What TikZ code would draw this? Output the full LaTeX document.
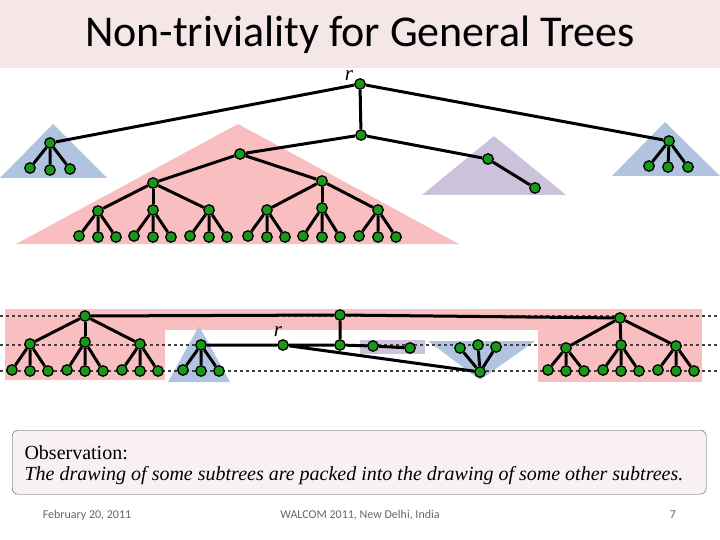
\documentclass[tikz,border=0pt]{standalone}
\usepackage{fontspec}
\setmainfont{Liberation Serif}
\newfontfamily\carfont{Carlito}
\begin{document}
\begin{tikzpicture}[x=1pt,y=-1pt,
 v/.style={circle,draw=black,fill=green!55!black!90,line width=1.3pt,inner sep=0pt,minimum size=10.5pt},
 ed/.style={line width=3pt},
 dl/.style={dashed,black!75,line width=1.1pt}]
\useasboundingbox (0,0) rectangle (720,540);
\definecolor{hdr}{RGB}{245,230,232}
\definecolor{pk}{RGB}{248,190,192}
\definecolor{bl}{RGB}{176,196,224}
\definecolor{pu}{RGB}{204,194,220}
\fill[hdr] (0,0) rectangle (720,68);
\node[font=\carfont\fontsize{44}{48}\selectfont] (title) at (360,35) {Non-triviality for General Trees};
% top tree backgrounds
\fill[bl] (53,124) -- (107,178) -- (0,178) -- cycle;
\fill[bl] (665,122) -- (720,176) -- (612,176) -- cycle;
\fill[pu] (494,136) -- (566,195) -- (422,195) -- cycle;
\fill[pk] (238,124) -- (459,244) -- (16,244) -- cycle;
% top tree
\node[v] (r) at (360,84) {};
\node[font=\itshape\fontsize{21}{21}\selectfont] (rl) at (349,76) {r};
\node[v] (m) at (361,135) {};
\node[v] (L) at (50,143) {};
\node[v] (L1) at (30,168) {};\node[v] (L2) at (50,170) {};\node[v] (L3) at (70,169) {};
\node[v] (R) at (669,141) {};
\node[v] (R1) at (649,166) {};\node[v] (R2) at (668,167) {};\node[v] (R3) at (688,167) {};
\node[v] (P) at (488,159) {};\node[v] (P1) at (535,188) {};
\node[v] (T) at (240,154) {};
\node[v] (Ta) at (153,183) {};\node[v] (Tb) at (322,181) {};
\draw[ed] (r)--(m) (r)--(L) (r)--(R) (m)--(T) (m)--(P) (P)--(P1)
 (L)--(L1) (L)--(L2) (L)--(L3) (R)--(R1) (R)--(R2) (R)--(R3) (T)--(Ta) (T)--(Tb);
\foreach \n/\x/\y/\p in {a1/98/211/Ta,a2/153/210/Ta,a3/209/210/Ta,b1/267/210/Tb,b2/322/208/Tb,b3/378/210/Tb}{
 \node[v] (\n) at (\x,\y) {};
 \draw[ed] (\p)--(\n);
 \node[v] (\n x) at (\x-19,236) {};\node[v] (\n y) at (\x,237) {};\node[v] (\n z) at (\x+18,237) {};
 \draw[ed] (\n)--(\n x) (\n)--(\n y) (\n)--(\n z);
}
% bottom
\fill[pk] (5,309) rectangle (702,330);
\fill[pk] (5,330) rectangle (165,380);
\fill[pk] (538,330) rectangle (702,382);
\fill[bl] (199,326) -- (230,382) -- (168,382) -- cycle;
\fill[pu] (360,340) rectangle (425,354);
\fill[bl] (428,341) -- (535,341) -- (480,380) -- cycle;
\draw[dl] (0,316)--(720,316) (0,345)--(720,345) (0,371)--(720,371);
\node[v] (A) at (85,316) {};\node[v] (B) at (340,315) {};\node[v] (C) at (620,318) {};
\draw[ed] (A)--(B)--(C);
\foreach \n/\x/\y/\p in {A1/30/344/A,A2/85/342/A,A3/140/344/A,C1/566/348/C,C2/621/345/C,C3/676/346/C}{
 \node[v] (\n) at (\x,\y) {};
 \draw[ed] (\p)--(\n);
 \node[v] (\n x) at (\x-18,370) {};\node[v] (\n y) at (\x,371) {};\node[v] (\n z) at (\x+18,371) {};
 \draw[ed] (\n)--(\n x) (\n)--(\n y) (\n)--(\n z);
}
\node[v] (S) at (201,345) {};
\node[v] (S1) at (183,370) {};\node[v] (S2) at (201,371) {};\node[v] (S3) at (219,371) {};
\draw[ed] (S)--(S1) (S)--(S2) (S)--(S3);
\node[v] (r2) at (283,345) {};
\node[font=\itshape\fontsize{21}{21}\selectfont] (r2l) at (278,332) {r};
\node[v] (Bm) at (340,345) {};
\node[v] (Q1) at (373,346) {};\node[v] (Q2) at (410,348) {};
\node[v] (W) at (480,372) {};
\node[v] (W1) at (460,348) {};\node[v] (W2) at (478,345) {};\node[v] (W3) at (496,347) {};
\draw[ed] (S)--(r2)--(Bm)--(B) (Bm)--(Q1)--(Q2) (r2)--(W) (W)--(W1) (W)--(W2) (W)--(W3);
% observation
\node[draw=gray!60!black,fill=hdr!60,rounded corners=6pt,minimum width=694pt,minimum height=64pt,anchor=north west] (box) at (12,430) {};
\node[anchor=west,font=\fontsize{20}{22}\selectfont] (o1) at (21,453) {Observation:};
\node[anchor=west,font=\itshape\fontsize{20}{22}\selectfont] (o2) at (21,476) {The drawing of some subtrees are packed into\ the drawing of some other subtrees.};
\node[font=\carfont\fontsize{12}{13}\selectfont,text=gray!80!black] (f1) at (87,515) {February 20, 2011};
\node[font=\carfont\fontsize{12}{13}\selectfont,text=gray!80!black] (f2) at (360,515) {WALCOM 2011, New Delhi, India};
\node[font=\carfont\fontsize{12}{13}\selectfont,text=gray!80!black] (f3) at (673,515) {7};
\end{tikzpicture}
\end{document}
